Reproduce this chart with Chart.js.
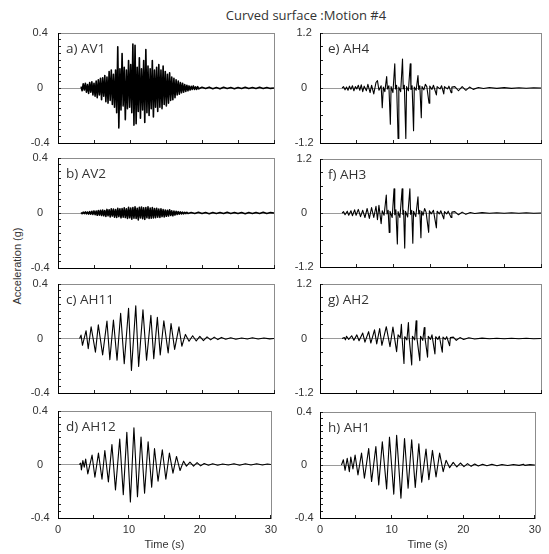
<!DOCTYPE html>
<html>
<head>
<meta charset="utf-8">
<script src="https://cdn.jsdelivr.net/npm/chart.js@4.4.1/dist/chart.umd.min.js"></script>
<style>
  html, body { margin: 0; padding: 0; background: #fff; }
  #fig { position: relative; width: 549px; height: 554px; overflow: hidden; }
  .panel { position: absolute; }
  .panel canvas { display: block; }
  #title {
    position: absolute; left: 306px; top: 15px; transform: translate(-50%, -50%);
    white-space: nowrap; font: 13px "Open Sans"; color: #333;
  }
  #ytitle {
    position: absolute; left: 17px; top: 266px; transform: translate(-50%, -50%) rotate(-90deg);
    white-space: nowrap; font: 11px "Liberation Sans"; color: #333;
  }
</style>
</head>
<body>
<div id="fig">
  <div id="title">Curved surface :Motion #4</div>
  <div id="ytitle">Acceleration (g)</div>
</div>
<script>
// vertical records, sampled on a fixed step (s, g)
const av1Start = 3.2, av1Step = 0.15;
const av1Acc = [
  0.01, -0.02, 0.03, -0.015, 0.035, -0.03, 0.025, -0.04, 0.04, -0.03,
  0.045, -0.05, 0.035, -0.06, 0.05, -0.07, 0.06, -0.05, 0.07, -0.085,
  0.075, -0.06, 0.09, -0.1, 0.08, -0.11, 0.12, -0.09, 0.13, -0.12,
  0.1, -0.14, 0.13, -0.18, 0.3, -0.29, 0.14, -0.16, 0.25, -0.13,
  0.15, -0.23, 0.13, -0.15, 0.2, -0.14, 0.17, -0.18, 0.32, -0.27,
  0.31, -0.26, 0.15, -0.17, 0.22, -0.22, 0.14, -0.16, 0.2, -0.25,
  0.28, -0.18, 0.16, -0.2, 0.14, -0.15, 0.2, -0.21, 0.13, -0.14,
  0.15, -0.17, 0.17, -0.14, 0.13, -0.15, 0.16, -0.12, 0.12, -0.13,
  0.1, -0.11, 0.11, -0.09, 0.08, -0.085, 0.07, -0.07, 0.06, -0.05,
  0.05, -0.045, 0.04, -0.035, 0.035, -0.03, 0.025, -0.025, 0.02, -0.02,
  0.015, -0.015, 0.012, -0.01, 0.015, -0.01, 0.008, -0.01, 0.01, -0.006
];
const av1TailStart = 20, av1TailStep = 0.5;
const av1TailAcc = [
  0.005, -0.004, 0.006, -0.005, 0.004, -0.006, 0.005, -0.004, 0.003, -0.005,
  0.004, -0.003, 0.005, -0.004, 0.003, -0.004, 0.005, -0.003, 0.004, -0.003, 0
];

const av2Start = 3.2, av2Step = 0.15;
const av2Acc = [
  0.004, -0.005, 0.006, -0.004, 0.008, -0.006, 0.007, -0.008, 0.01, -0.008,
  0.012, -0.01, 0.015, -0.012, 0.014, -0.016, 0.018, -0.015, 0.02, -0.018,
  0.022, -0.02, 0.018, -0.025, 0.026, -0.02, 0.024, -0.028, 0.03, -0.022,
  0.028, -0.03, 0.025, -0.032, 0.034, -0.026, 0.03, -0.035, 0.032, -0.03,
  0.038, -0.033, 0.03, -0.04, 0.042, -0.035, 0.036, -0.045, 0.04, -0.038,
  0.045, -0.04, 0.035, -0.05, 0.042, -0.036, 0.044, -0.042, 0.038, -0.046,
  0.04, -0.035, 0.045, -0.04, 0.036, -0.038, 0.04, -0.036, 0.032, -0.034,
  0.035, -0.03, 0.028, -0.032, 0.03, -0.026, 0.025, -0.028, 0.022, -0.024,
  0.02, -0.022, 0.024, -0.018, 0.016, -0.02, 0.014, -0.015, 0.012, -0.01,
  0.01, -0.008, 0.008, -0.007, 0.006, -0.006, 0.005, -0.004, 0.005, -0.004
];
const av2TailStart = 18.5, av2TailStep = 0.5;
const av2TailAcc = [
  0.004, -0.003, 0.005, -0.004, 0.003, -0.005, 0.004, -0.003, 0.003, -0.004,
  0.005, -0.003, 0.004, -0.004, 0.003, -0.005, 0.004, -0.003, 0.004, -0.003,
  0.005, -0.004, 0.003, 0
];

// horizontal records, peak by peak (time s, acceleration g)
const ah11Time = [
  3.0, 3.2, 3.4, 3.9, 4.2, 4.6, 5.2, 5.6, 6.2, 6.8,
  7.2, 7.7, 8.2, 8.7, 9.2, 9.8, 10.2, 10.8, 11.2, 11.8,
  12.3, 12.9, 13.3, 13.8, 14.2, 14.7, 15.3, 15.7, 16.2, 16.8,
  17.2, 17.7, 18.2, 18.7, 19.2, 19.7, 20.2, 20.7, 21.2, 21.7,
  22.2, 22.7, 23.3, 24.0, 24.7, 25.5, 26.3, 27.0, 27.8, 28.6,
  29.4, 30.0
];
const ah11Acc = [
  0, 0.025, -0.05, 0.057, -0.074, 0.086, -0.1, 0.1, -0.12, 0.128,
  -0.155, 0.136, -0.16, 0.185, -0.185, 0.222, -0.235, 0.24, -0.205, 0.21,
  -0.16, 0.17, -0.148, 0.155, -0.12, 0.13, -0.106, 0.11, -0.08, 0.086,
  -0.057, 0.03, -0.02, 0.02, -0.018, 0.016, -0.015, 0.012, -0.01, 0.01,
  -0.008, 0.008, -0.006, 0.005, -0.005, 0.004, -0.004, 0.005, -0.004, 0.004,
  -0.003, 0
];

const ah12Time = [
  3.0, 3.2, 3.3, 3.5, 3.7, 3.9, 4.2, 4.8, 5.2, 5.7,
  6.2, 6.6, 7.1, 7.6, 8.1, 8.7, 9.2, 9.7, 10.2, 10.7,
  11.2, 11.7, 12.2, 12.7, 13.2, 13.6, 14.1, 14.7, 15.2, 15.7,
  16.2, 16.7, 17.2, 17.7, 18.1, 18.6, 19.1, 19.6, 20.1, 20.6,
  21.2, 21.8, 22.5, 23.2, 24.0, 24.8, 25.6, 26.4, 27.2, 28.0,
  28.8, 29.5, 30.0
];
const ah12Acc = [
  0, 0.01, -0.04, 0.03, -0.02, 0.04, -0.07, 0.07, -0.095, 0.085,
  -0.11, 0.105, -0.13, 0.15, -0.19, 0.19, -0.225, 0.24, -0.28, 0.275,
  -0.24, 0.205, -0.215, 0.17, -0.17, 0.12, -0.125, 0.11, -0.11, 0.085,
  -0.065, 0.06, -0.045, 0.025, -0.012, 0.018, -0.012, 0.014, -0.01, 0.008,
  -0.006, 0.006, -0.005, 0.004, -0.004, 0.005, -0.005, 0.005, -0.004, 0.005,
  -0.004, 0.004, 0
];

const ah4Time = [
  3.0, 3.2, 3.4, 3.6, 3.8, 4.0, 4.2, 4.4, 4.6, 4.8,
  5.0, 5.2, 5.4, 5.6, 5.8, 6.0, 6.3, 6.5, 6.8, 7.0,
  7.3, 7.6, 7.8, 8.0, 8.3, 8.45, 8.6, 8.8, 9.05, 9.15,
  9.35, 9.55, 9.65, 9.9, 10.15, 10.25, 10.4, 10.6, 10.7, 10.95,
  11.2, 11.3, 11.45, 11.65, 11.75, 12.0, 12.25, 12.35, 12.5, 12.7,
  12.8, 13.05, 13.3, 13.4, 13.55, 13.75, 13.85, 14.1, 14.3, 14.5,
  14.8, 14.9, 15.2, 15.4, 15.8, 15.9, 16.3, 16.5, 16.8, 16.9,
  17.3, 17.5, 17.8, 17.9, 18.3, 18.8, 19.3, 19.8, 20.3, 20.8,
  21.5, 22.2, 23.0, 24.0, 25.0, 26.0, 27.0, 28.0, 29.0, 30.0
];
const ah4Acc = [
  0, 0.03, -0.04, 0.02, -0.05, 0.04, -0.03, 0.05, -0.06, 0.03,
  -0.02, 0.06, -0.05, 0.07, -0.08, 0.04, -0.06, 0.08, -0.1, 0.06,
  -0.13, 0.12, 0.16, -0.05, 0.05, -0.43, 0.02, -0.08, 0.25, -0.02,
  0.05, -0.79, 0.03, -0.1, 0.53, -0.02, 0.06, -1.1, 0.02, -0.08,
  0.63, -0.02, 0.06, -1.1, 0.03, -0.06, 0.53, -0.03, 0.05, -0.93,
  0.02, -0.05, 0.27, -0.03, 0.05, -0.65, 0.03, -0.04, 0.08, 0.03,
  -0.33, 0.04, -0.03, 0.06, -0.15, 0.03, -0.02, 0.05, -0.13, 0.03,
  -0.02, 0.04, -0.1, 0.02, 0.03, -0.06, 0.03, -0.05, 0.02, -0.03,
  0.01, -0.01, 0.01, -0.008, 0.008, -0.008, 0.006, -0.006, 0.005, 0
];

const ah3Time = [
  3.0, 3.2, 3.4, 3.7, 3.9, 4.2, 4.4, 4.7, 4.9, 5.2,
  5.5, 5.8, 6.1, 6.4, 6.7, 7.0, 7.3, 7.6, 7.8, 8.0,
  8.3, 8.45, 8.7, 9.0, 9.1, 9.25, 9.4, 9.5, 9.8, 10.05,
  10.15, 10.3, 10.5, 10.6, 10.85, 11.15, 11.25, 11.35, 11.5, 11.6,
  11.9, 12.2, 12.3, 12.45, 12.6, 12.7, 13.0, 13.3, 13.4, 13.55,
  13.7, 13.8, 14.0, 14.2, 14.4, 14.75, 14.85, 15.1, 15.4, 15.8,
  15.9, 16.2, 16.4, 16.8, 16.9, 17.2, 17.4, 17.8, 17.9, 18.3,
  18.8, 19.3, 19.8, 20.4, 21.0, 22.0, 23.0, 24.0, 25.0, 26.0,
  27.0, 28.0, 29.0, 30.0
];
const ah3Acc = [
  0, 0.03, -0.04, 0.04, -0.05, 0.05, -0.06, 0.07, -0.05, 0.08,
  -0.08, 0.06, -0.1, 0.1, -0.12, 0.12, -0.1, 0.15, -0.15, 0.17,
  -0.24, 0.05, -0.05, 0.4, -0.02, 0.06, -0.43, 0.04, -0.1, 0.54,
  -0.04, 0.07, -0.69, 0.03, -0.1, 0.54, -0.03, 0.06, -0.78, 0.04,
  -0.09, 0.54, -0.03, 0.06, -0.67, 0.04, -0.08, 0.36, -0.02, 0.06,
  -0.55, 0.04, -0.05, 0.1, 0.02, -0.43, 0.05, -0.02, 0.06, -0.33,
  0.04, -0.02, 0.05, -0.13, 0.03, -0.02, 0.04, -0.1, 0.02, 0.03,
  -0.04, 0.02, -0.03, 0.01, -0.01, 0.008, -0.006, 0.006, -0.005, 0.005,
  -0.004, 0.004, -0.004, 0
];

const ah2Time = [
  3.0, 3.3, 3.45, 3.6, 3.9, 4.3, 4.6, 5.0, 5.3, 5.8,
  6.1, 6.6, 6.9, 7.4, 7.7, 8.1, 8.4, 9.0, 9.5, 9.9,
  10.4, 10.6, 10.9, 11.05, 11.15, 11.4, 11.5, 11.8, 12.0, 12.1,
  12.45, 12.55, 12.85, 13.05, 13.15, 13.55, 13.65, 13.95, 14.15, 14.25,
  14.6, 14.7, 15.0, 15.2, 15.6, 15.7, 16.0, 16.2, 16.6, 16.7,
  17.0, 17.2, 17.6, 17.7, 18.1, 18.5, 19.0, 19.5, 20.2, 21.0,
  22.0, 23.0, 24.0, 25.0, 26.0, 27.0, 28.0, 29.0, 30.0
];
const ah2Acc = [
  0, 0.02, -0.03, 0.05, -0.02, 0.06, -0.04, 0.08, -0.05, 0.12,
  -0.08, 0.15, -0.1, 0.19, -0.12, 0.22, -0.15, 0.26, -0.18, 0.25,
  -0.29, 0.08, 0.02, 0.31, 0.0, -0.55, 0.04, -0.03, 0.35, 0.02,
  -0.58, 0.05, -0.03, 0.39, 0.02, -0.49, 0.05, -0.04, 0.24, 0.02,
  -0.41, 0.05, -0.02, 0.08, -0.34, 0.04, -0.02, 0.05, -0.3, 0.03,
  -0.02, 0.04, -0.16, 0.02, 0.03, -0.04, 0.02, -0.02, 0.015, -0.01,
  0.008, -0.007, 0.006, -0.006, 0.005, -0.005, 0.005, -0.004, 0
];

const ah1Time = [
  3.0, 3.26, 3.5, 3.8, 4.1, 4.3, 4.6, 4.9, 5.3, 5.8,
  6.2, 6.8, 7.2, 7.8, 8.2, 8.7, 9.3, 9.7, 10.3, 10.7,
  11.3, 11.8, 12.3, 12.8, 13.3, 13.8, 14.2, 14.8, 15.2, 15.7,
  16.2, 16.7, 17.2, 17.6, 18.1, 18.6, 19.1, 19.6, 20.1, 20.6,
  21.1, 21.6, 22.1, 22.7, 23.3, 24.0, 24.7, 25.4, 26.2, 27.0,
  27.8, 28.4, 28.6, 29.3, 30.0
];
const ah1Acc = [
  0, 0.04, -0.04, 0.05, -0.05, 0.06, -0.03, 0.075, -0.075, 0.09,
  -0.1, 0.125, -0.125, 0.14, -0.15, 0.175, -0.18, 0.21, -0.22, 0.225,
  -0.25, 0.2, -0.175, 0.19, -0.17, 0.16, -0.13, 0.12, -0.11, 0.11,
  -0.09, 0.09, -0.05, 0.035, -0.02, 0.02, -0.015, 0.015, -0.012, 0.01,
  -0.01, 0.008, -0.008, 0.006, -0.006, 0.005, -0.005, 0.004, -0.004, 0.004,
  -0.003, 0.006, -0.003, 0.003, 0
];

const timeMin = 0, timeMax = 30, timeStep = 5;
const timeLabelEvery = 10;
const timeTitle = 'Time (s)';

function paired(time, acc) {
  return time.map((t, i) => ({ x: t, y: acc[i] }));
}
function sampled(start, step, acc) {
  return acc.map((v, i) => ({ x: +(start + i * step).toFixed(2), y: v }));
}

// column boxes: canvas left/width, y axis width, right padding, y label padding
const cols = [
  { left: 0, width: 285, axis: 58, right: 11, pad: 11.4 },
  { left: 285, width: 264, axis: 35, right: 8, pad: 9.4 }
];

const panels = [
  { label: 'a) AV1', col: 0, top: 33, bottom: 143, range: 0.4, step: 0.05, width: 1.6,
    points: sampled(av1Start, av1Step, av1Acc).concat(sampled(av1TailStart, av1TailStep, av1TailAcc)) },
  { label: 'b) AV2', col: 0, top: 158, bottom: 268, range: 0.4, step: 0.05, width: 1.6,
    points: sampled(av2Start, av2Step, av2Acc).concat(sampled(av2TailStart, av2TailStep, av2TailAcc)) },
  { label: 'c) AH11', col: 0, top: 284, bottom: 393, range: 0.4, step: 0.05, points: paired(ah11Time, ah11Acc) },
  { label: 'd) AH12', col: 0, top: 411, bottom: 518, range: 0.4, step: 0.05, points: paired(ah12Time, ah12Acc), axis: true },
  { label: 'e) AH4', col: 1, top: 33, bottom: 143, range: 1.2, step: 0.3, points: paired(ah4Time, ah4Acc) },
  { label: 'f) AH3', col: 1, top: 159, bottom: 267, range: 1.2, step: 0.3, points: paired(ah3Time, ah3Acc) },
  { label: 'g) AH2', col: 1, top: 284, bottom: 393, range: 1.2, step: 0.3, points: paired(ah2Time, ah2Acc) },
  { label: 'h) AH1', col: 1, top: 412, bottom: 518, range: 0.4, step: 0.05, points: paired(ah1Time, ah1Acc), axis: true }
];

const tickFont = { family: '"Liberation Sans", Arial, sans-serif', size: 11, lineHeight: 1.2 };
const XAXIS_H = 34;

// gray frame round the plot; the left and bottom axis borders are drawn black over it
const frame = {
  id: 'frame',
  beforeDraw(chart) {
    const { ctx, chartArea: a } = chart;
    ctx.save();
    ctx.strokeStyle = '#8c8c8c';
    ctx.lineWidth = 1;
    ctx.strokeRect(Math.round(a.left) + 0.5, Math.round(a.top) + 0.5,
      Math.round(a.right - a.left), Math.round(a.bottom - a.top));
    ctx.restore();
  }
};

function panelLabel(text) {
  return {
    id: 'panelLabel',
    beforeDatasetsDraw(chart) {
      const { ctx, chartArea: a } = chart;
      ctx.save();
      ctx.font = '13.5px "Open Sans"';
      ctx.fillStyle = '#333';
      ctx.textBaseline = 'alphabetic';
      ctx.fillText(text, a.left + 8, a.top + 20);
      ctx.restore();
    }
  };
}

function yLabel(range) {
  return (v) => {
    if (Math.abs(v) < 1e-9) return '0';
    if (Math.abs(Math.abs(v) - range) < 1e-9) return v.toFixed(1);
    return '';
  };
}

const fig = document.getElementById('fig');

panels.forEach((p) => {
  const col = cols[p.col];
  // y labels overhang the plot by half a line plus their padding
  const over = tickFont.size * tickFont.lineHeight / 2 + col.pad;
  const h = Math.round((p.bottom - p.top) + over + (p.axis ? XAXIS_H : over));
  const box = document.createElement('div');
  box.className = 'panel';
  box.style.left = col.left + 'px';
  box.style.top = Math.round(p.top - over) + 'px';
  const canvas = document.createElement('canvas');
  canvas.width = col.width;
  canvas.height = h;
  box.appendChild(canvas);
  fig.appendChild(box);

  const chart = new Chart(canvas, {
    type: 'line',
    data: {
      datasets: [{
        data: p.points,
        borderColor: '#000',
        borderWidth: p.width || 1.1,
        borderJoinStyle: 'round',
        pointRadius: 0,
        tension: 0,
        fill: false
      }]
    },
    options: {
      responsive: false,
      animation: false,
      events: [],
      parsing: false,
      layout: { padding: { left: 0, top: 0, right: col.right, bottom: 0 } },
      plugins: { legend: { display: false }, tooltip: { enabled: false } },
      scales: {
        x: {
          type: 'linear',
          min: timeMin,
          max: timeMax,
          border: { color: '#000', width: 1 },
          grid: { drawOnChartArea: false, tickLength: -3, tickColor: '#222' },
          ticks: {
            display: !!p.axis,
            stepSize: timeStep,
            autoSkip: false,
            maxRotation: 0,
            padding: 8,
            color: '#333',
            font: tickFont,
            callback: (v) => (v % timeLabelEvery === 0 ? String(v) : '')
          },
          title: { display: !!p.axis, text: timeTitle, color: '#333', font: tickFont, padding: 0 },
          afterFit: (s) => { s.height = p.axis ? XAXIS_H : 0; }
        },
        y: {
          min: -p.range,
          max: p.range,
          border: { color: '#000', width: 1 },
          grid: {
            color: (c) => (Math.abs(c.tick.value) < 1e-9 ? '#9a9a9a' : 'rgba(0,0,0,0)'),
            tickLength: -3,
            tickColor: '#222'
          },
          ticks: {
            stepSize: p.step,
            autoSkip: false,
            crossAlign: 'center',
            padding: col.pad,
            color: '#333',
            font: tickFont,
            callback: yLabel(p.range)
          },
          afterFit: (s) => { s.width = col.axis; }
        }
      }
    },
    plugins: [frame, panelLabel(p.label)]
  });

  // keep the plot top on its row even if the layout rounds differently
  box.style.top = Math.round(p.top - chart.chartArea.top) + 'px';
});
</script>
</body>
</html>
